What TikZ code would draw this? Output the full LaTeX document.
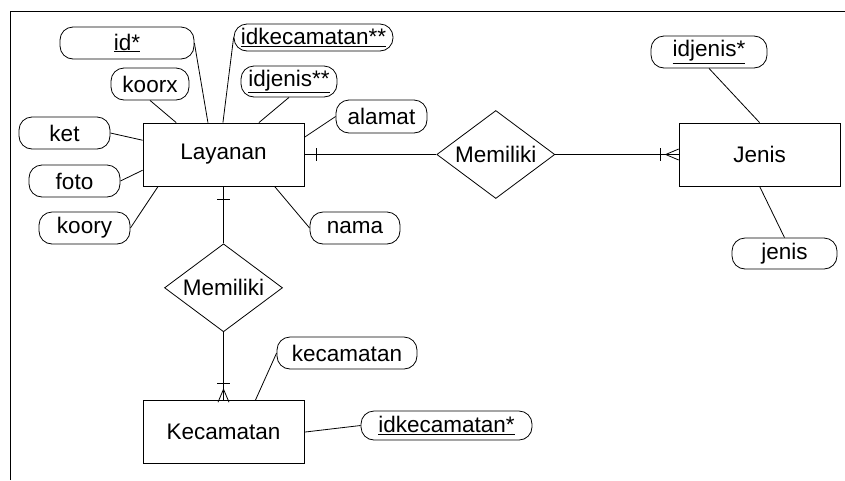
\documentclass[tikz,border=0pt]{standalone}
\usepackage{fontspec}
\setmainfont{Liberation Sans}
\usetikzlibrary{shapes, positioning}
\tikzset{
    onemark/.pic={
      \draw (0,-6.5) -- (0,6.5);
    },
    manymark/.pic={
      \draw (13,-5.5) -- (0,0) -- (13,5.5);
    }
  }

\begin{document}
\begin{tikzpicture}[x=1pt, y=-1pt, line width=0.8pt,
    every node/.style={font=\fontsize{22.5}{27}\selectfont},
    entity/.style={draw, minimum width=161, minimum height=63, inner sep=0},
    rel/.style={draw, diamond, aspect=1.34, minimum width=118, minimum height=88, inner sep=0},
    attr/.style={draw, rounded corners=13, minimum width=#1, minimum height=32, inner sep=0}]
        \useasboundingbox (0,0) rectangle (845,480);
        % frame of the page
        \draw (10,480) -- (10,11) -- (845,11);

        \node[entity] (lay) at (223.5,154.5) {Layanan};
        \node[rel] (rel1) [right=132pt of lay] {Memiliki};
        \node[entity] (jen) [right=123.5pt of rel1] {Jenis};
        \node[rel] (rel2) [below=57pt of lay] {Memiliki};
        \node[entity] (kec) [below=68pt of rel2] {Kecamatan};

        % attributes of Layanan
        \node[attr=134] (id) at (127,43) {\underline{id*}};
        \node[attr=159, minimum height=27] (idkec2) at (313.5,37.5) {\underline{idkecamatan**}};
        \node[attr=78] (koorx) at (150,84) {koorx};
        \node[attr=96, minimum height=31] (idjen2) at (289,81.5) {\underline{idjenis**}};
        \node[attr=91, minimum height=33] (alamat) at (381.5,116.5) {alamat};
        \node[attr=91] (ket) at (64.5,133) {ket};
        \node[attr=91] (foto) at (74.5,181) {foto};
        \node[attr=91] (koory) at (84.5,228) {koory};
        \node[attr=90] (nama) at (355,228) {nama};

        % attributes of Jenis and Kecamatan
        \node[attr=116] (idjen) at (709,52) {\underline{idjenis*}};
        \node[attr=105, minimum height=31] (jenis) at (784.5,253.5) {jenis};
        \node[attr=140] (kecamatan) at (347,353) {kecamatan};
        \node[attr=171, minimum height=29] (idkec) at (446.5,425.5) {\underline{idkecamatan*}};

        \draw (id.east) -- (lay.116);
        \draw (idkec2.west) -- (lay.91);
        \draw (koorx.south) -- (lay.146);
        \draw (idjen2.south) -- (lay.42);
        \draw (alamat.west) -- (lay.12);
        \draw (ket.east) -- (lay.170);
        \draw (foto.east) -- (lay.191);
        \draw (koory.east) -- (lay.206);
        \draw (nama.west) -- (lay.-32);
        \draw (idjen.south) -- (jen.north);
        \draw (jenis.north) -- (jen.south);
        \draw (kecamatan.west) -- (kec.45);
        \draw (idkec.west) -- (kec.east);

        % relationships
        \draw (lay.east) -- (rel1.west);
        \draw (rel1.east) -- (jen.west);
        \draw (lay.south) -- (rel2.north);
        \draw (rel2.south) -- (kec.north);
        \pic at ([xshift=12pt]lay.east) {onemark};
        \pic at ([xshift=-18pt]jen.west) {onemark};
        \pic at ([xshift=-13pt]jen.west) {manymark};
        \pic[rotate=90] at ([yshift=-13pt]lay.south) {onemark};
        \pic[rotate=90] at ([yshift=17pt]kec.north) {onemark};
        \pic[rotate=-90] at ([yshift=11pt]kec.north) {manymark};
    \end{tikzpicture}
\end{document}
